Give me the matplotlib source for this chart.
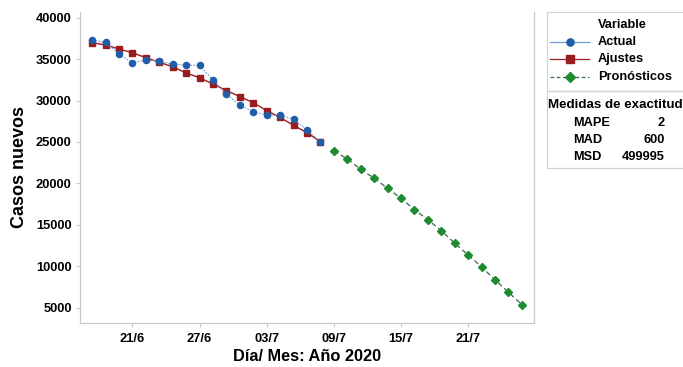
import matplotlib
matplotlib.use("Agg")
import matplotlib.pyplot as plt
from matplotlib.lines import Line2D
from matplotlib.patches import Rectangle

plt.rcParams['font.family'] = ['Liberation Sans', 'DejaVu Sans']

# Datos (casos nuevos por día, índice de observación)
actual = [37300, 37020, 35590, 34560, 34890, 34750, 34380, 34260, 34260,
          32475, 30785, 29420, 28650, 28215, 28215, 27770, 26400, 25030]
ajustes = [36980, 36700, 36215, 35770, 35165, 34610, 34080, 33320, 32750,
           31990, 31195, 30480, 29735, 28780, 27950, 27005, 26115, 25030]
pronosticos = [23940, 22940, 21695, 20610, 19400, 18195, 16820, 15610,
               14285, 12765, 11350, 9905, 8370, 6850, 5355]

tick_idx = [4, 9, 14, 19, 24, 29]
tick_labels = ['21/6', '27/6', '03/7', '09/7', '15/7', '21/7']
y_ticks = [5000, 10000, 15000, 20000, 25000, 30000, 35000, 40000]

medidas = [('MAPE', '2'), ('MAD', '600'), ('MSD', '499995')]

c_blue = '#1f5ea8'
c_red = '#9b1c1f'
c_green = '#1e8a32'
c_gray = '#c8c8c8'

W, H = 683, 367
fig = plt.figure(figsize=(W / 100, H / 100), dpi=100)
ax = fig.add_axes([80 / W, 1 - 322.5 / H, 454 / W, 310.5 / H])

x_act = list(range(1, len(actual) + 1))
x_fit = list(range(1, len(ajustes) + 1))
x_for = list(range(len(actual) + 1, len(actual) + len(pronosticos) + 1))

ax.plot(x_act, actual, color='#6f9bd3', lw=0.7, ls=(0, (2, 1.2)),
        marker='o', ms=4.4, mfc=c_blue, mec=c_blue, zorder=3)
ax.plot(x_fit, ajustes, color=c_red, lw=1.0, marker='s', ms=4.5,
        mfc=c_red, mec=c_red, zorder=2)
ax.plot(x_for, pronosticos, color='#3a6b45', lw=0.9, ls=(0, (4, 2.5)),
        marker='D', ms=4.0, mfc=c_green, mec=c_green, zorder=2)

ax.set_xlim(0.1, 33.9)
ax.set_ylim(3205, 40682)
ax.set_xticks(tick_idx)
ax.set_xticklabels(tick_labels)
ax.set_yticks(y_ticks)
ax.set_yticklabels([str(v) for v in y_ticks])

ax.spines['top'].set_visible(False)
for side in ['left', 'bottom', 'right']:
    ax.spines[side].set_color(c_gray)
    ax.spines[side].set_linewidth(0.9)
ax.tick_params(axis='both', colors=c_gray, length=3, width=0.8,
               labelcolor='black', labelsize=9.3)
ax.tick_params(axis='x', pad=4.5)
ax.tick_params(axis='y', pad=3)
for lab in ax.get_xticklabels() + ax.get_yticklabels():
    lab.set_fontweight('bold')

ax.set_xlabel('Día/ Mes: Año 2020', fontsize=11.8, fontweight='bold', labelpad=3)
ax.set_ylabel('Casos nuevos', fontsize=13, fontweight='bold', labelpad=6)


def fx(x):
    return x / W


def fy(y):
    return 1 - y / H


# panel de la derecha
for top, bot in [(12, 90.5), (91.5, 168)]:
    fig.patches.append(Rectangle((fx(547), fy(bot)), fx(700) - fx(547),
                                 fy(top) - fy(bot), transform=fig.transFigure,
                                 fill=False, ec='#d4d4d4', lw=0.9))

fig.text(fx(622), fy(25), 'Variable', ha='center', va='center',
         fontsize=9.2, fontweight='bold')

entries = [('Actual', '#6f9bd3', '-', 'o', c_blue, 42),
           ('Ajustes', c_red, '-', 's', c_red, 59),
           ('Pronósticos', '#3a6b45', (0, (3, 2)), 'D', c_green, 77)]
for name, lc, ls, mk, mc, yy in entries:
    fig.lines.append(Line2D([fx(550), fx(589)], [fy(yy), fy(yy)],
                            transform=fig.transFigure, color=lc, lw=0.9, ls=ls))
    fig.lines.append(Line2D([fx(569.5)], [fy(yy)], transform=fig.transFigure,
                            marker=mk, ms=5.2, mfc=mc, mec=mc, ls='none'))
    fig.text(fx(598), fy(yy), name, ha='left', va='center',
             fontsize=9.2, fontweight='bold')

fig.text(fx(615), fy(105), 'Medidas de exactitud', ha='center', va='center',
         fontsize=9.6, fontweight='bold')
for k, (lab, val) in enumerate(medidas):
    yy = 123 + k * 17
    fig.text(fx(573), fy(yy), lab, ha='left', va='center',
             fontsize=9.2, fontweight='bold')
    fig.text(fx(665), fy(yy), val, ha='right', va='center',
             fontsize=9.2, fontweight='bold')

fig.savefig('out.png', dpi=100)
